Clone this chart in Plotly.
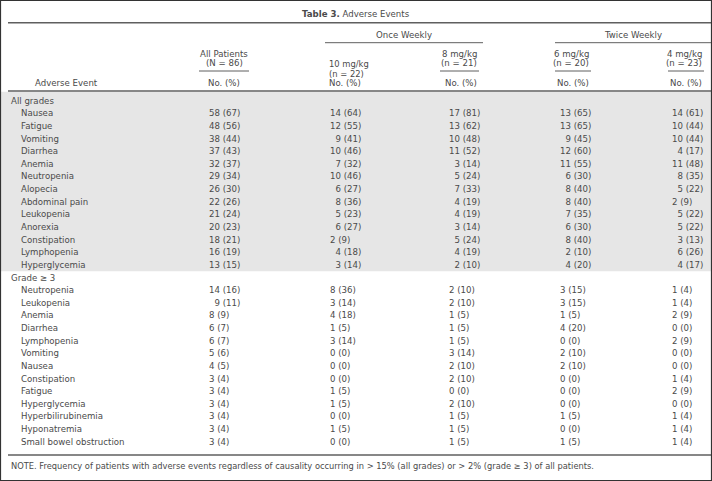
import plotly.graph_objects as go

# ---------------- data ----------------
title_bold = "Table 3."
title_rest = "Adverse Events"
group_labels = ["Once Weekly", "Twice Weekly"]
col_dose = ["All Patients", "10 mg/kg", "8 mg/kg", "6 mg/kg", "4 mg/kg"]
col_n = ["(N = 86)", "(n = 22)", "(n = 21)", "(n = 20)", "(n = 23)"]
col_unit = "No. (%)"
stub_header = "Adverse Event"
section_labels = ["All grades", "Grade \u2265 3"]

ag_events = ["Nausea", "Fatigue", "Vomiting", "Diarrhea", "Anemia", "Neutropenia",
             "Alopecia", "Abdominal pain", "Leukopenia", "Anorexia", "Constipation",
             "Lymphopenia", "Hyperglycemia"]
ag_all_n = [58, 48, 38, 37, 32, 29, 26, 22, 21, 20, 18, 16, 13]
ag_all_p = [67, 56, 44, 43, 37, 34, 30, 26, 24, 23, 21, 19, 15]
ag_10_n = [14, 12, 9, 10, 7, 10, 6, 8, 5, 6, 2, 4, 3]
ag_10_p = [64, 55, 41, 46, 32, 46, 27, 36, 23, 27, 9, 18, 14]
ag_8_n = [17, 13, 10, 11, 3, 5, 7, 4, 4, 3, 5, 4, 2]
ag_8_p = [81, 62, 48, 52, 14, 24, 33, 19, 19, 14, 24, 19, 10]
ag_6_n = [13, 13, 9, 12, 11, 6, 8, 8, 7, 6, 8, 2, 4]
ag_6_p = [65, 65, 45, 60, 55, 30, 40, 40, 35, 30, 40, 10, 20]
ag_4_n = [14, 10, 10, 4, 11, 8, 5, 2, 5, 5, 3, 6, 4]
ag_4_p = [61, 44, 44, 17, 48, 35, 22, 9, 22, 22, 13, 26, 17]

g3_events = ["Neutropenia", "Leukopenia", "Anemia", "Diarrhea", "Lymphopenia", "Vomiting",
             "Nausea", "Constipation", "Fatigue", "Hyperglycemia", "Hyperbilirubinemia",
             "Hyponatremia", "Small bowel obstruction"]
g3_all_n = [14, 9, 8, 6, 6, 5, 4, 3, 3, 3, 3, 3, 3]
g3_all_p = [16, 11, 9, 7, 7, 6, 5, 4, 4, 4, 4, 4, 4]
g3_10_n = [8, 3, 4, 1, 3, 0, 0, 0, 1, 1, 0, 1, 0]
g3_10_p = [36, 14, 18, 5, 14, 0, 0, 0, 5, 5, 0, 5, 0]
g3_8_n = [2, 2, 1, 1, 1, 3, 2, 2, 0, 2, 1, 1, 1]
g3_8_p = [10, 10, 5, 5, 5, 14, 10, 10, 0, 10, 5, 5, 5]
g3_6_n = [3, 3, 1, 4, 0, 2, 2, 0, 0, 0, 1, 0, 1]
g3_6_p = [15, 15, 5, 20, 0, 10, 10, 0, 0, 0, 5, 0, 5]
g3_4_n = [1, 1, 2, 0, 2, 0, 0, 1, 2, 0, 1, 1, 1]
g3_4_p = [4, 4, 9, 0, 9, 0, 0, 4, 9, 0, 4, 4, 4]

note_text = ("NOTE. Frequency of patients with adverse events regardless of causality occurring in "
             "> 15% (all grades) or > 2% (grade \u2265 3) of all patients.")

# ---------------- layout constants ----------------
W, H = 712, 481
FONT = "DejaVu Sans, Liberation Sans, Arial, sans-serif"
FS = 8.6
TXT = "#4a4a4a"
RULE = "#5f5f5f"
SHADE = "#e6e6e6"

x_sec = 9
x_item = 19
col_x = [207, 328, 447, 558, 670]
row0_y = 100.7
row_h = 12.63

fig = go.Figure()
ann = []
shapes = []


def txt(x, y, s, anchor="left", size=FS, color=TXT):
    ann.append(dict(x=x, y=y, xref="x", yref="y", text=s, showarrow=False,
                    xanchor=anchor, yanchor="middle",
                    font=dict(family=FONT, size=size, color=color)))


def hline(x0, x1, y, w=1.0, c=RULE):
    shapes.append(dict(type="line", xref="x", yref="y", x0=x0, x1=x1, y0=y, y1=y,
                       line=dict(color=c, width=w)))


def fmt(n, p, pad):
    s = f"{n} ({p})"
    if pad and n < 10 and p >= 10:
        s = "\u2007" + s
    return s


# title
txt(W / 2, 13.5, f"<b>{title_bold}</b> {title_rest}", anchor="center")
hline(8, 711, 22.7, 1.6)

# group headers
txt(404, 35, group_labels[0], anchor="center")
hline(325, 483, 42.7, 1.0)
txt(633, 35, group_labels[1], anchor="center")
hline(555, 711, 42.7, 1.0)

# column headers
txt(224, 53.6, col_dose[0], anchor="center")
txt(224, 62.8, col_n[0], anchor="center")
hline(199, 249, 71, 1.0)
txt(224, 82.8, col_unit, anchor="center")

txt(col_x[1] - 1, 64.4, col_dose[1], size=8.4)
txt(col_x[1] - 1, 74.0, col_n[1], size=8.4)
txt(col_x[1] - 1, 82.8, col_unit)

for i, (xl, xr) in zip([2, 3, 4], [(440, 479), (555, 591), (668, 704)]):
    txt(xr, 53.6, col_dose[i], anchor="right")
    txt(xr, 62.8, col_n[i], anchor="right")
    hline(xl, xr, 71, 1.0)
    txt(xr, 82.8, col_unit, anchor="right")

txt(66, 82.8, stub_header, anchor="center")
hline(8, 711, 91, 1.6)

# body
sections = [
    (section_labels[0], ag_events,
     [(ag_all_n, ag_all_p), (ag_10_n, ag_10_p), (ag_8_n, ag_8_p), (ag_6_n, ag_6_p), (ag_4_n, ag_4_p)]),
    (section_labels[1], g3_events,
     [(g3_all_n, g3_all_p), (g3_10_n, g3_10_p), (g3_8_n, g3_8_p), (g3_6_n, g3_6_p), (g3_4_n, g3_4_p)]),
]

r = 0
shade_end = None
for si, (label, events, cols) in enumerate(sections):
    txt(x_sec, row0_y + r * row_h, label)
    r += 1
    for k, ev in enumerate(events):
        y = row0_y + r * row_h
        txt(x_item, y, ev)
        for ci, (ns, ps) in enumerate(cols):
            pad = max(ns) >= 10
            txt(col_x[ci], y, fmt(ns[k], ps[k], pad))
        r += 1
    if si == 0:
        shade_end = row0_y + (r - 0.5) * row_h

shapes.insert(0, dict(type="rect", xref="x", yref="y", x0=1, x1=711, y0=91.8, y1=shade_end,
                      fillcolor=SHADE, line=dict(width=0), layer="below"))

hline(8, 711, 455, 1.6)
txt(x_sec, 465.7, note_text, size=8.3)

# outer frame
shapes.append(dict(type="rect", xref="x", yref="y", x0=0.5, x1=711.5, y0=0.5, y1=480.5,
                   line=dict(color="#333333", width=1.2), fillcolor="rgba(0,0,0,0)"))

fig.update_layout(
    width=W, height=H,
    margin=dict(l=0, r=0, t=0, b=0),
    paper_bgcolor="white", plot_bgcolor="white",
    xaxis=dict(range=[0, W], visible=False, fixedrange=True),
    yaxis=dict(range=[H, 0], visible=False, fixedrange=True),
    annotations=ann, shapes=shapes, showlegend=False,
)
fig.write_html("out.html", config={"displayModeBar": False},
               post_script="document.body.style.margin='0px';document.body.style.overflow='hidden';")
